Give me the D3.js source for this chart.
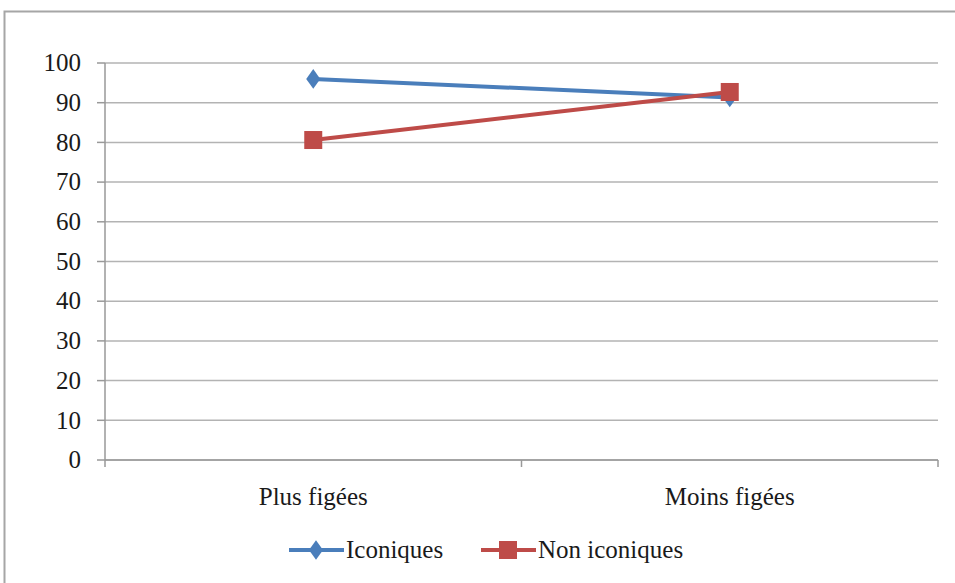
<!DOCTYPE html>
<html><head><meta charset="utf-8">
<script src="https://cdn.jsdelivr.net/npm/d3@7"></script>
</head><body style="margin:0">
<svg id="c" width="955" height="583" style="display:block"></svg>
<script>
const categories = ["Plus figées", "Moins figées"];
const seriesNames = ["Iconiques", "Non iconiques"];
const iconiques = [96, 91.3];
const nonIconiques = [80.6, 92.7];
const yTicks = [0,10,20,30,40,50,60,70,80,90,100];
const colors = ["#4A7EBB", "#BE4B48"];

const svg = d3.select("#c");
const fs = 25;
function styleText(sel){
  sel.attr("font-size",fs).style("font-family",'"Liberation Serif"').attr("fill","#1a1a1a");
}
// frame
svg.append("rect").attr("x",4.5).attr("y",11.5).attr("width",960).attr("height",600)
  .attr("fill","none").attr("stroke","#a6a6a6").attr("stroke-width",2);

const L=105, R=938, T=63, B=460;
const x = d3.scaleBand().domain(categories).range([L,R]);
const y = d3.scaleLinear().domain([0,100]).range([B,T]);

// gridlines
svg.append("g").selectAll("line").data(yTicks).join("line")
  .attr("x1",L).attr("x2",R).attr("y1",d=>y(d)).attr("y2",d=>y(d))
  .attr("stroke","#b3b3b3").attr("stroke-width",1.5);

// y axis (ticks drawn manually via scale)
const yg = svg.append("g");
yg.append("line").attr("x1",L).attr("x2",L).attr("y1",y(100)).attr("y2",y(0)).attr("stroke","#999").attr("stroke-width",1.5);
yg.selectAll("line.t").data(yTicks).join("line").attr("class","t")
  .attr("x1",L-8).attr("x2",L).attr("y1",d=>y(d)).attr("y2",d=>y(d)).attr("stroke","#999").attr("stroke-width",1.5);
styleText(yg.selectAll("text").data(yTicks).join("text")
  .attr("x",L-24).attr("y",d=>y(d)).attr("dy","0.33em").attr("text-anchor","end").text(d=>d));

// x axis
const xg = svg.append("g");
xg.append("line").attr("x1",L).attr("x2",R).attr("y1",B).attr("y2",B).attr("stroke","#999").attr("stroke-width",1.5);
const bounds = [L, ...categories.map(c=>x(c)+x.bandwidth())];
xg.selectAll("line.t").data(bounds).join("line").attr("class","t")
  .attr("x1",d=>d).attr("x2",d=>d).attr("y1",B).attr("y2",B+7)
  .attr("stroke","#999").attr("stroke-width",1.5);
const cx = c => x(c)+x.bandwidth()/2;
styleText(xg.selectAll("text").data(categories).join("text")
  .attr("x",d=>cx(d)).attr("y",B+37).attr("dy","0.33em").attr("text-anchor","middle").text(d=>d));

const line = d3.line().x((d,i)=>cx(categories[i])).y(d=>y(d));
const data = [iconiques, nonIconiques];

function marker(g, i, px, py){
  if(i===0){
    g.append("path").attr("d",d3.symbol(d3.symbolDiamond,110)()).attr("transform",`translate(${px},${py}) scale(1.25,1)`)
      .attr("fill",colors[0]);
  } else {
    g.append("rect").attr("x",px-9).attr("y",py-9).attr("width",18).attr("height",18).attr("fill",colors[1]);
  }
}

data.forEach((vals,i)=>{
  const g = svg.append("g");
  g.append("path").datum(vals).attr("d",line).attr("fill","none")
    .attr("stroke",colors[i]).attr("stroke-width",4);
  vals.forEach((v,j)=>marker(g,i,cx(categories[j]),y(v)));
});

// legend
const legendX = [289, 481];
const ly = 550;
seriesNames.forEach((n,i)=>{
  const g = svg.append("g");
  g.append("line").attr("x1",legendX[i]).attr("x2",legendX[i]+55).attr("y1",ly).attr("y2",ly)
    .attr("stroke",colors[i]).attr("stroke-width",4);
  marker(g,i,legendX[i]+27,ly);
  styleText(g.append("text").attr("x",legendX[i]+57).attr("y",ly).attr("dy","0.33em").text(n));
});
</script>
</body></html>
